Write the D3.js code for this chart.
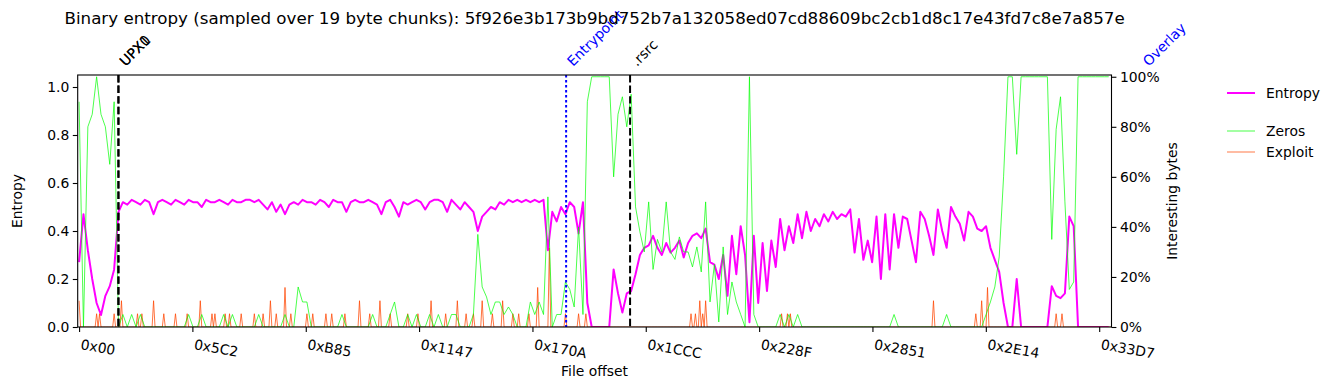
<!DOCTYPE html>
<html lang="en">
<head>
    <meta charset="UTF-8">
    <title>Binary entropy</title>
    <script src="https://d3js.org/d3.v7.min.js"></script>
    <style>
        body { margin: 0; background: #fff; }
        text { font-family: "DejaVu Sans", sans-serif; fill: #000; }
        .tick line { stroke: #000; stroke-width: 1.1px; }
        .tick text { font-size: 13.9px; }
    </style>
</head>
<body>
    <svg id="chart" width="1335" height="390"></svg>
    <script>
        const title = "Binary entropy (sampled over 19 byte chunks): 5f926e3b173b9bd752b7a132058ed07cd88609bc2cb1d8c17e43fd7c8e7a857e";
        const CHUNK = 19;      // bytes per chunk
        const STEP = 57;       // bytes between the values typed below (3 chunks)
        const fileEnd = 13431; // last offset shown

        // entropy per sample (left axis)
        const entropy = [
            0.27, 0.47, 0.32, 0.20, 0.10, 0.05, 0.13, 0.17, 0.24, 0.48,
            0.52, 0.51, 0.53, 0.52, 0.51, 0.53, 0.52, 0.47, 0.52, 0.53,
            0.52, 0.51, 0.53, 0.52, 0.51, 0.53, 0.52, 0.52, 0.50, 0.53,
            0.52, 0.52, 0.53, 0.52, 0.51, 0.53, 0.52, 0.52, 0.53, 0.53,
            0.52, 0.53, 0.51, 0.49, 0.52, 0.48, 0.51, 0.47, 0.51, 0.52,
            0.51, 0.53, 0.52, 0.52, 0.51, 0.53, 0.52, 0.50, 0.53, 0.52,
            0.52, 0.48, 0.52, 0.53, 0.52, 0.52, 0.53, 0.52, 0.51, 0.47,
            0.52, 0.53, 0.50, 0.46, 0.52, 0.51, 0.52, 0.53, 0.52, 0.49,
            0.52, 0.53, 0.53, 0.52, 0.48, 0.53, 0.51, 0.49, 0.52, 0.50,
            0.48, 0.40, 0.46, 0.48, 0.50, 0.49, 0.52, 0.51, 0.53, 0.52,
            0.53, 0.52, 0.53, 0.52, 0.53, 0.52, 0.53, 0.32, 0.48, 0.44,
            0.50, 0.47, 0.52, 0.50, 0.39, 0.52, 0.10, 0.00, 0.00, 0.00,
            0.00, 0.00, 0.24, 0.14, 0.06, 0.14, 0.15, 0.22, 0.30, 0.33,
            0.34, 0.38, 0.33, 0.30, 0.35, 0.31, 0.33, 0.36, 0.29, 0.35,
            0.38, 0.39, 0.37, 0.41, 0.27, 0.26, 0.20, 0.30, 0.13, 0.38,
            0.22, 0.42, 0.30, 0.02, 0.38, 0.10, 0.35, 0.15, 0.36, 0.25,
            0.45, 0.32, 0.42, 0.35, 0.47, 0.37, 0.48, 0.40, 0.45, 0.42,
            0.47, 0.44, 0.48, 0.45, 0.47, 0.46, 0.49, 0.31, 0.45, 0.28,
            0.36, 0.27, 0.46, 0.20, 0.47, 0.24, 0.47, 0.33, 0.46, 0.45,
            0.36, 0.27, 0.48, 0.45, 0.38, 0.30, 0.49, 0.40, 0.33, 0.50,
            0.46, 0.43, 0.36, 0.48, 0.46, 0.41, 0.40, 0.42, 0.33, 0.28,
            0.23, 0.10, 0.00, 0.00, 0.20, 0.00, 0.00, 0.00, 0.00, 0.00,
            0.00, 0.00, 0.17, 0.13, 0.12, 0.14, 0.46, 0.42, 0.00, 0.00,
            0.00, 0.00, 0.00, 0.00, 0.00, 0.00
        ];

        // share of zero bytes per sample (right axis)
        const zeros = [
            0.90, 0.00, 0.80, 0.85, 1.00, 0.85, 0.80, 0.65, 0.90, 0.00,
            0.05, 0.00, 0.05, 0.00, 0.05, 0.00, 0.00, 0.00, 0.00, 0.00,
            0.00, 0.00, 0.00, 0.00, 0.00, 0.05, 0.00, 0.00, 0.05, 0.00,
            0.00, 0.00, 0.00, 0.05, 0.00, 0.05, 0.00, 0.00, 0.00, 0.00,
            0.00, 0.05, 0.00, 0.00, 0.00, 0.00, 0.00, 0.05, 0.00, 0.00,
            0.16, 0.10, 0.10, 0.00, 0.00, 0.00, 0.00, 0.00, 0.00, 0.00,
            0.05, 0.00, 0.00, 0.00, 0.00, 0.00, 0.00, 0.05, 0.00, 0.00,
            0.00, 0.05, 0.10, 0.00, 0.00, 0.05, 0.00, 0.05, 0.00, 0.00,
            0.05, 0.00, 0.05, 0.00, 0.00, 0.05, 0.05, 0.00, 0.00, 0.00,
            0.05, 0.37, 0.16, 0.12, 0.05, 0.10, 0.10, 0.05, 0.08, 0.05,
            0.00, 0.00, 0.00, 0.10, 0.05, 0.10, 0.05, 0.52, 0.00, 0.05,
            0.05, 0.18, 0.15, 0.08, 0.40, 0.05, 0.90, 1.00, 1.00, 1.00,
            1.00, 1.00, 0.60, 0.85, 0.92, 0.80, 0.93, 0.48, 0.38, 0.30,
            0.50, 0.23, 0.35, 0.30, 0.50, 0.30, 0.27, 0.36, 0.30, 0.30,
            0.24, 0.32, 0.22, 0.50, 0.10, 0.25, 0.02, 0.32, 0.05, 0.18,
            0.10, 0.05, 0.00, 1.00, 0.05, 0.00, 0.00, 0.00, 0.00, 0.00,
            0.05, 0.00, 0.05, 0.00, 0.05, 0.00, 0.00, 0.00, 0.00, 0.00,
            0.00, 0.00, 0.00, 0.00, 0.00, 0.00, 0.00, 0.00, 0.00, 0.00,
            0.00, 0.00, 0.00, 0.00, 0.00, 0.00, 0.05, 0.00, 0.00, 0.00,
            0.00, 0.00, 0.00, 0.00, 0.00, 0.00, 0.00, 0.00, 0.05, 0.00,
            0.00, 0.00, 0.00, 0.00, 0.00, 0.00, 0.00, 0.05, 0.10, 0.16,
            0.28, 0.60, 1.00, 1.00, 0.69, 1.00, 1.00, 1.00, 1.00, 1.00,
            1.00, 1.00, 0.35, 0.79, 0.92, 0.50, 0.15, 0.18, 1.00, 1.00,
            1.00, 1.00, 1.00, 1.00, 1.00, 1.00
        ];

        // exploit-like bytes: only the chunks that are not zero
        const exploitOffsets = [
            0, 228, 266, 456, 551, 760, 817, 969, 1102, 1254, 1406, 1577, 1729, 1767,
            1900, 1957, 2109, 2280, 2394, 2489, 2565, 2679, 2755, 2964, 3040, 3211,
            3287, 3458, 3648, 3781, 3914, 4047, 4275, 4408, 4579, 4769, 4921, 5035,
            5130, 5244, 5377, 5510, 5643, 5719, 5852, 5966, 6118, 6327, 6498, 6593,
            7961, 8018, 8075, 8113, 8151, 9139, 9215, 9253, 11115, 11666, 11742,
            11818, 12711, 12787
        ];
        const exploitValues = [
            0.105, 0.053, 0.053, 0.053, 0.105, 0.053, 0.053, 0.105, 0.053, 0.053, 0.053, 0.105, 0.053, 0.053,
            0.053, 0.053, 0.053, 0.053, 0.053, 0.105, 0.053, 0.158, 0.053, 0.053, 0.053, 0.053,
            0.053, 0.053, 0.105, 0.053, 0.105, 0.053, 0.053, 0.053, 0.105, 0.053, 0.105, 0.053,
            0.053, 0.105, 0.053, 0.105, 0.053, 0.053, 0.053, 0.158, 0.316, 0.053, 0.053, 0.053,
            0.053, 0.053, 0.105, 0.053, 0.105, 0.053, 0.053, 0.053, 0.105, 0.053, 0.105,
            0.158, 0.053, 0.053
        ];

        const xTickLabels = ["0x00", "0x5C2", "0xB85", "0x1147", "0x170A", "0x1CCC", "0x228F", "0x2851", "0x2E14", "0x33D7"];
        const yLeftTicks = [0, 0.2, 0.4, 0.6, 0.8, 1.0];
        const yRightTicks = [0, 0.2, 0.4, 0.6, 0.8, 1.0];

        const markerNames = ["UPX0", "UPX1", "Entrypoint", ".rsrc", "Overlay"];
        const markerOffsets = [0x200, 0x200, 0x18C0, 0x1C00, 0x3600];
        const markerKinds = ["section", "section", "point", "section", "point"];

        // ---- layout ----
        const plot = { left: 77.7, right: 1111.5, top: 75, bottom: 327 };
        const svg = d3.select("#chart");

        const x = d3.scaleLinear().domain([-18, fileEnd]).range([plot.left, plot.right]);
        const yL = d3.scaleLinear().domain([0, 1.05]).range([plot.bottom, plot.top]);
        const yR = d3.scaleLinear().domain([0, 1.007]).range([plot.bottom, plot.top]);

        svg.append("defs").append("clipPath").attr("id", "clip")
            .append("rect")
            .attr("x", plot.left).attr("y", plot.top)
            .attr("width", plot.right - plot.left).attr("height", plot.bottom - plot.top);

        // exploit series at chunk resolution
        const nChunks = Math.ceil(fileEnd / CHUNK) + 1;
        const exploit = new Array(nChunks).fill(0);
        exploitOffsets.forEach((o, k) => { exploit[Math.round(o / CHUNK)] = exploitValues[k]; });

        const lines = svg.append("g").attr("clip-path", "url(#clip)");

        lines.append("path")
            .datum(entropy)
            .attr("fill", "none")
            .attr("stroke", "#ff00ff")
            .attr("stroke-width", 2)
            .attr("stroke-linejoin", "round")
            .attr("d", d3.line().x((d, i) => x(i * STEP)).y(d => yL(d)));

        lines.append("path")
            .datum(exploit)
            .attr("fill", "none")
            .attr("stroke", "#ff4500")
            .attr("stroke-opacity", 0.75)
            .attr("stroke-width", 1)
            .attr("stroke-linejoin", "round")
            .attr("d", d3.line().x((d, i) => x(i * CHUNK)).y(d => yR(d)));

        lines.append("path")
            .datum(zeros)
            .attr("fill", "none")
            .attr("stroke", "#00ff00")
            .attr("stroke-opacity", 0.7)
            .attr("stroke-width", 1)
            .attr("stroke-linejoin", "round")
            .attr("d", d3.line().x((d, i) => x(i * STEP)).y(d => yR(d)));

        // section / entrypoint markers
        markerOffsets.forEach((o, k) => {
            const px = x(o);
            const isSection = markerKinds[k] === "section";
            const color = isSection ? "#000" : "#0000ff";
            lines.append("line")
                .attr("x1", px).attr("x2", px)
                .attr("y1", plot.top).attr("y2", plot.bottom)
                .attr("stroke", color)
                .attr("stroke-width", 2)
                .attr("stroke-dasharray", isSection ? "7.4,3.2" : "2.4,2.6");
            svg.append("text")
                .attr("transform", `translate(${px + 7},67) rotate(-45)`)
                .style("font-size", "13.9px")
                .style("fill", color)
                .text(markerNames[k]);
        });

        // frame
        svg.append("rect")
            .attr("x", plot.left).attr("y", plot.top)
            .attr("width", plot.right - plot.left).attr("height", plot.bottom - plot.top)
            .attr("fill", "none").attr("stroke", "#000").attr("stroke-width", 1.1);

        // axes
        const gl = svg.append("g").attr("transform", `translate(${plot.left},0)`)
            .call(d3.axisLeft(yL).tickValues(yLeftTicks).tickFormat(d3.format(".1f")).tickSize(4.9).tickPadding(3.5));
        const gr = svg.append("g").attr("transform", `translate(${plot.right},0)`)
            .call(d3.axisRight(yR).tickValues(yRightTicks).tickFormat(d3.format(".0%")).tickSize(4.9).tickPadding(3.5));
        const gb = svg.append("g").attr("transform", `translate(0,${plot.bottom})`)
            .call(d3.axisBottom(x).tickValues(xTickLabels.map(s => parseInt(s, 16)))
                .tickFormat((d, i) => xTickLabels[i]).tickSize(4.9));
        gb.selectAll(".tick text")
            .attr("x", 0).attr("y", 0).attr("dy", null)
            .attr("text-anchor", "start")
            .attr("transform", "translate(0.5,22) rotate(10)");
        [gl, gr, gb].forEach(g => {
            g.select(".domain").remove();
            g.selectAll("text").attr("font-family", null).attr("font-size", null);
        });

        // titles
        svg.append("text")
            .attr("x", (plot.left + plot.right) / 2).attr("y", 24)
            .attr("text-anchor", "middle")
            .style("font-size", "16.7px")
            .text(title);
        svg.append("text")
            .attr("x", (plot.left + plot.right) / 2).attr("y", 376)
            .attr("text-anchor", "middle")
            .style("font-size", "13.9px")
            .text("File offset");
        svg.append("text")
            .attr("transform", `translate(22,${(plot.top + plot.bottom) / 2}) rotate(-90)`)
            .attr("text-anchor", "middle")
            .style("font-size", "13.9px")
            .text("Entropy");
        svg.append("text")
            .attr("transform", `translate(1177,${(plot.top + plot.bottom) / 2}) rotate(-90)`)
            .attr("text-anchor", "middle")
            .style("font-size", "13.9px")
            .text("Interesting bytes");

        // legend
        const legendNames = ["Entropy", "Zeros", "Exploit"];
        const legendColors = ["#ff00ff", "#00ff00", "#ff4500"];
        const legendY = [93, 131, 152];
        legendNames.forEach((name, k) => {
            svg.append("line")
                .attr("x1", 1227).attr("x2", 1255)
                .attr("y1", legendY[k]).attr("y2", legendY[k])
                .attr("stroke", legendColors[k])
                .attr("stroke-opacity", k === 0 ? 1 : 0.72)
                .attr("stroke-width", k === 0 ? 2 : 1);
            svg.append("text")
                .attr("x", 1266).attr("y", legendY[k])
                .attr("dy", "0.35em")
                .style("font-size", "13.9px")
                .text(name);
        });
    </script>
</body>
</html>
